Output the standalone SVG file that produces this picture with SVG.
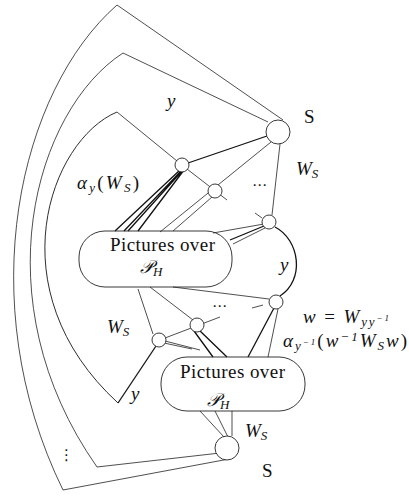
<svg xmlns="http://www.w3.org/2000/svg" width="409" height="496" viewBox="0 0 409 496">
<style>
.l{fill:none;stroke:#222;stroke-width:0.8}
.b{fill:none;stroke:#111;stroke-width:1.3}
.c{fill:#fff;stroke:#222;stroke-width:0.9}
.box{fill:none;stroke:#222;stroke-width:0.9}
.t{font-family:"Liberation Serif",serif;font-size:19px;fill:#111}
.i{font-family:"Liberation Serif",serif;font-style:italic;font-size:19px;fill:#111}
.p{font-family:"Liberation Serif",serif;font-style:italic;font-size:18px;fill:#111}
.s{font-size:13px}
.d{font-family:"DejaVu Sans",sans-serif;font-size:15px;fill:#111}
</style>
<rect width="409" height="496" fill="#fff"/>
<g id="connectors">
<path class="l" d="M117,5 C20,90 -30,300 63,490 L229,459"/>
<path class="l" d="M123,53 C35,110 -20,300 97,467 L220,453"/>
<path class="l" d="M117,112 C50,140 -5,290 118,403" style="stroke-width:0.95"/>
<path class="l" d="M117,5 L283,120"/>
<path class="l" d="M123,53 L268,122"/>
<path class="l" d="M117,112 L177,161"/>
<path class="b" d="M188,163 L267,136"/>
<path class="l" d="M187,169 L227,200"/>
<path class="l" d="M271,142 L160,232"/>
<path class="l" d="M212,197 L173,231"/>
<path class="l" d="M280,144 L272,215"/>
<path class="l" d="M255,213 L262,218"/>
<path class="b" d="M180,170 L115,231 M182,170 L124,231 M183,170 L128,231 M184,170 L138,231"/>
<path class="l" d="M264,224 L213,233"/>
<path class="b" d="M264,226 L230,240"/>
<path class="l" d="M265,228 L233,244"/>
<path class="b" d="M275,227 C300,240 305,280 280,296"/>
<path class="l" d="M173,287 L269,299"/>
<path class="l" d="M150,287 L193,320"/>
<path class="l" d="M165,338 L220,317"/>
<path class="l" d="M252,308 L263,305"/>
<path class="l" d="M138,289 L153,334"/>
<path class="b" d="M274,308 L248,357"/>
<path class="l" d="M278,309 L268,357"/>
<path class="b" d="M194,331 L213,357 M199,330 L227,357"/>
<path class="l" d="M164,343 L192,349 M165,341 L200,350"/>
<path class="b" d="M156,346 L118,403"/>
<path class="l" d="M200,411 L224,437 M215,411 L228,437 M232,411 L232,436"/>
</g>
<g id="S-top"><circle class="c" cx="278" cy="132" r="12"/></g>
<g id="n1"><circle class="c" cx="182" cy="165" r="7"/></g>
<g id="n2"><circle class="c" cx="215" cy="191" r="7"/></g>
<g id="n3"><circle class="c" cx="269" cy="222" r="7"/></g>
<g id="n4"><circle class="c" cx="276" cy="302" r="7"/></g>
<g id="n5"><circle class="c" cx="197" cy="325" r="7"/></g>
<g id="n6"><circle class="c" cx="159" cy="340" r="7"/></g>
<g id="S-bottom"><circle class="c" cx="227" cy="448" r="12"/></g>
<g id="box1">
<rect class="box" x="79" y="231" width="153" height="56" rx="26"/>
<text class="t" x="110" y="251" textLength="105">Pictures over</text>
<text class="p" x="140" y="273">𝒫<tspan class="s" dy="3">H</tspan></text>
</g>
<g id="box2">
<rect class="box" x="161" y="357" width="144" height="54" rx="26"/>
<text class="t" x="180" y="378" textLength="105">Pictures over</text>
<text class="p" x="207" y="406">𝒫<tspan class="s" dy="3">H</tspan></text>
</g>
<g id="labels">
<text class="i" x="167" y="107">y</text>
<text class="t" x="304" y="123">S</text>
<text class="i" x="296" y="175">W<tspan class="s" dy="3">S</tspan></text>
<text class="i" x="77" y="189" textLength="62">α<tspan class="s" dy="3">y</tspan><tspan dy="-3" font-style="normal">(</tspan>W<tspan class="s" dy="3">S</tspan><tspan dy="-3" font-style="normal">)</tspan></text>
<text class="d" x="252" y="190">⋯</text>
<text class="i" x="280" y="271">y</text>
<text class="d" x="212" y="311">⋯</text>
<text class="i" x="107" y="333">W<tspan class="s" dy="3">S</tspan></text>
<text class="i" x="303" y="323" textLength="86">w <tspan font-style="normal">=</tspan> W<tspan class="s" dy="3">yy</tspan><tspan font-size="9" dy="-5">−1</tspan></text>
<text class="i" x="283" y="347" textLength="124">α<tspan class="s" dy="3">y</tspan><tspan font-size="9" dy="-5">−1</tspan><tspan dy="2" font-style="normal">(</tspan>w<tspan class="s" dy="-6">−1</tspan><tspan dy="6">W</tspan><tspan class="s" dy="3">S</tspan><tspan dy="-3">w</tspan><tspan font-style="normal">)</tspan></text>
<text class="i" x="131" y="400">y</text>
<text class="i" x="245" y="437">W<tspan class="s" dy="3">S</tspan></text>
<text class="t" x="262" y="477">S</text>
<text class="d" x="59" y="460">⋮</text>
</g>
</svg>
